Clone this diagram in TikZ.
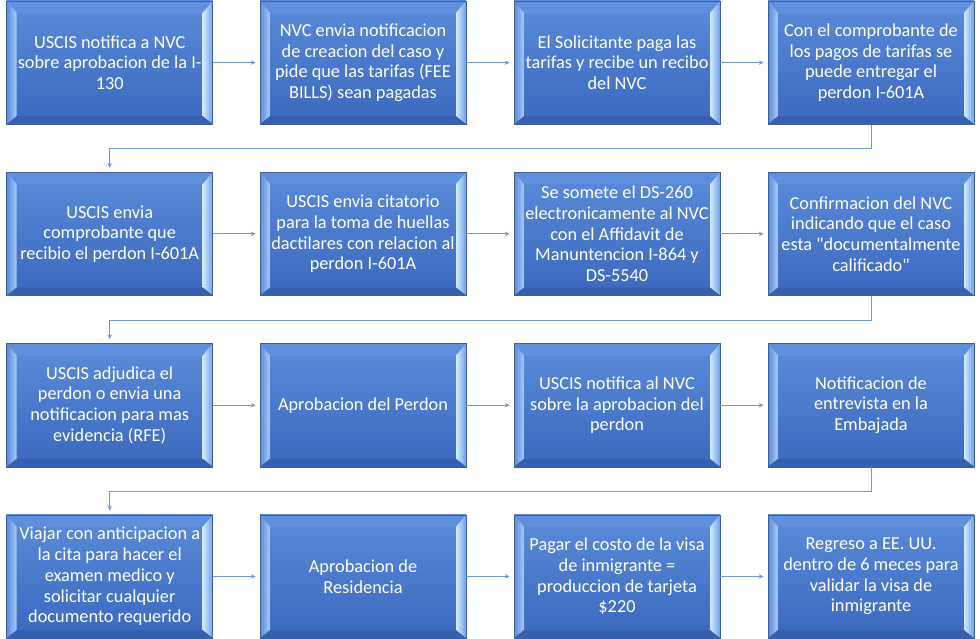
\documentclass[tikz,border=0pt]{standalone}
\usepackage{fontspec}
\newfontfamily\boxfont{Carlito}
\usetikzlibrary{arrows.meta,calc}
\definecolor{faceTop}{HTML}{5B8BDA}
\definecolor{faceBot}{HTML}{3B68BE}
\definecolor{bevTop}{HTML}{5F8FDD}
\definecolor{bevLo}{HTML}{5A8ADB}
\definecolor{bevLi}{HTML}{A9CBF6}
\definecolor{bevRi}{HTML}{D2ECFF}
\definecolor{bevRo}{HTML}{6E9FE6}
\definecolor{bevBot}{HTML}{3760B0}
\definecolor{edgeC}{HTML}{3F5F9C}
\definecolor{connC}{HTML}{6F97DD}
\tikzset{
  stepbox/.style={rectangle, minimum width=206pt, minimum height=123.3pt,
    inner sep=0pt, align=center, text=white,
    font=\boxfont\fontsize{18.3}{20.7}\selectfont,
    path picture={
      \coordinate (NW) at (path picture bounding box.north west);
      \coordinate (NE) at (path picture bounding box.north east);
      \coordinate (SW) at (path picture bounding box.south west);
      \coordinate (SE) at (path picture bounding box.south east);
      \coordinate (iNW) at ([shift={(10pt,-12pt)}]NW);
      \coordinate (iNE) at ([shift={(-10pt,-12pt)}]NE);
      \coordinate (iSW) at ([shift={(10pt,8pt)}]SW);
      \coordinate (iSE) at ([shift={(-10pt,8pt)}]SE);
      \shade[top color=faceTop, bottom color=faceBot] (NW) rectangle (SE);
      \fill[bevTop] (NW) -- (NE) -- (iNE) -- (iNW) -- cycle;
      \shade[left color=bevLo, right color=bevLi] (NW) -- (iNW) -- (iSW) -- (SW) -- cycle;
      \shade[left color=bevRi, right color=bevRo] (NE) -- (iNE) -- (iSE) -- (SE) -- cycle;
      \fill[bevBot] (SW) -- (iSW) -- (iSE) -- (SE) -- cycle;
    }},
  boxedge/.style={draw=edgeC, line width=0.6pt},
  conn/.style={draw=connC, line width=1pt, -{Stealth[length=5pt,width=4.5pt]}, shorten >=4pt}
}
\begin{document}
\begin{tikzpicture}[x=1pt,y=-1pt]
\useasboundingbox (0,0) rectangle (980,639);
% row 1
\node[stepbox,boxedge] (n1) at (109.7,62.6) {USCIS notifica a NVC\\sobre aprobacion de la I-\\130};
\node[stepbox,boxedge] (n2) at (363,62.6) {NVC envia notificacion\\de creacion del caso y\\pide que las tarifas (FEE\\BILLS) sean pagadas};
\node[stepbox,boxedge] (n3) at (617,62.6) {El Solicitante paga las\\tarifas y recibe un recibo\\del NVC};
\node[stepbox,boxedge] (n4) at (871,62.6) {Con el comprobante de\\los pagos de tarifas se\\puede entregar el\\perdon I-601A};
% row 2
\node[stepbox,boxedge] (n5) at (109.7,233.9) {USCIS envia\\comprobante que\\recibio el perdon I-601A};
\node[stepbox,boxedge] (n6) at (363,233.9) {USCIS envia citatorio\\para la toma de huellas\\dactilares con relacion al\\perdon I-601A};
\node[stepbox,boxedge] (n7) at (617,233.9) {Se somete el DS-260\\electronicamente al NVC\\con el Affidavit de\\Manuntencion I-864 y\\DS-5540};
\node[stepbox,boxedge] (n8) at (871,233.9) {Confirmacion del NVC\\indicando que el caso\\esta "documentalmente\\calificado"};
% row 3
\node[stepbox,boxedge] (n9) at (109.7,405.2) {USCIS adjudica el\\perdon o envia una\\notificacion para mas\\evidencia (RFE)};
\node[stepbox,boxedge] (n10) at (363,405.2) {Aprobacion del Perdon};
\node[stepbox,boxedge] (n11) at (617,405.2) {USCIS notifica al NVC\\sobre la aprobacion del\\perdon};
\node[stepbox,boxedge] (n12) at (871,405.2) {Notificacion de\\entrevista en la\\Embajada};
% row 4
\node[stepbox,boxedge] (n13) at (109.7,576.5) {Viajar con anticipacion a\\la cita para hacer el\\examen medico y\\solicitar cualquier\\documento requerido};
\node[stepbox,boxedge] (n14) at (363,576.5) {Aprobacion de\\Residencia};
\node[stepbox,boxedge] (n15) at (617,576.5) {Pagar el costo de la visa\\de inmigrante =\\produccion de tarjeta\\\$220};
\node[stepbox,boxedge] (n16) at (871,576.5) {Regreso a EE. UU.\\dentro de 6 meces para\\validar la visa de\\inmigrante};
% connectors
\foreach \a/\b in {n1/n2,n2/n3,n3/n4,n5/n6,n6/n7,n7/n8,n9/n10,n10/n11,n11/n12,n13/n14,n14/n15,n15/n16}
  \draw[conn] (\a.east) -- (\b.west);
\draw[conn] (n4.south) -- ++(0,24.2) -| (n5.north);
\draw[conn] (n8.south) -- ++(0,24.2) -| (n9.north);
\draw[conn] (n12.south) -- ++(0,24.2) -| (n13.north);
\end{tikzpicture}
\end{document}
